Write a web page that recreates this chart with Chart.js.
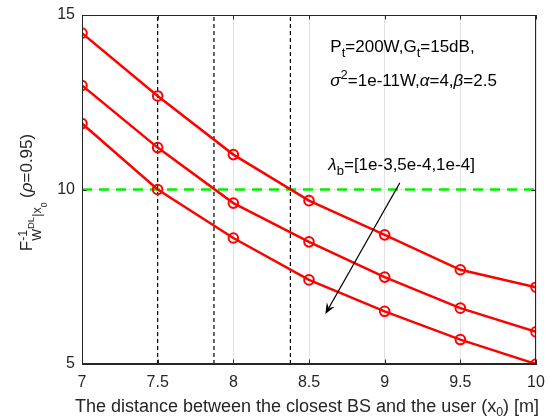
<!DOCTYPE html>
<html><head><meta charset="utf-8">
<style>html,body{margin:0;padding:0;background:#fff;}#wrap{width:550px;height:417px;}</style>
<script src="https://cdn.jsdelivr.net/npm/chart.js@4/dist/chart.umd.min.js"></script>
</head><body><div id="wrap"><canvas id="c" width="550" height="417"></canvas></div>
<script>
// ---- data ----
const xValues = [7, 7.5, 8, 8.5, 9, 9.5, 10];
const seriesHigh = [14.48, 12.68, 11.0, 9.68, 8.70, 7.70, 7.20];
const seriesMid  = [12.98, 11.20, 9.61, 8.50, 7.49, 6.60, 5.92];
const seriesLow  = [11.89, 10.00, 8.61, 7.41, 6.51, 5.70, 5.00];
const xTickLabels = ['7', '7.5', '8', '8.5', '9', '9.5', '10'];
const yTickValues = [5, 10, 15];
const thresholdValue = 10;
const crossingX = [7.5, 7.872, 8.377];

const FAMILY = '"Liberation Sans", Arial, Helvetica, sans-serif';
const TXT = '#262626';

function toPts(ys) { return xValues.map((x, i) => ({x: x, y: ys[i]})); }

function redSeries(ys) {
  return {
    data: toPts(ys), borderColor: '#ff0000', borderWidth: 2.5,
    pointStyle: 'circle', pointRadius: 4.8, pointBorderWidth: 2,
    pointBorderColor: '#ff0000', pointBackgroundColor: 'rgba(0,0,0,0)',
    fill: false, tension: 0
  };
}

const datasets = [
  redSeries(seriesHigh), redSeries(seriesMid), redSeries(seriesLow),
  { data: [{x: 7, y: thresholdValue}, {x: 10, y: thresholdValue}], borderColor: '#00f000',
    borderWidth: 2.5, borderDash: [10, 7], pointRadius: 0, fill: false },
];
crossingX.forEach(cx => datasets.push({
  data: [{x: cx, y: 5}, {x: cx, y: 15}], borderColor: '#000', borderWidth: 1.2,
  borderDash: [4, 3], pointRadius: 0, fill: false
}));

function drawRuns(ctx, x, y, runs, draw) {
  let cx = x, mark = x, maxX = x;
  for (const r of runs) {
    if (r.back) cx = mark;
    if (r.mark) mark = cx;
    ctx.font = (r.it ? 'italic ' : '') + r.size + 'px ' + FAMILY;
    if (draw) ctx.fillText(r.t, cx, y + (r.dy || 0));
    cx += ctx.measureText(r.t).width;
    maxX = Math.max(maxX, cx);
  }
  return maxX - x;
}

const decor = {
  id: 'decor',
  afterDraw(chart, args, opts) {
    const ctx = chart.ctx, a = chart.chartArea, xs = chart.scales.x, ys = chart.scales.y;
    ctx.save();
    // box
    ctx.strokeStyle = TXT; ctx.lineWidth = 1;
    ctx.strokeRect(Math.round(a.left) + 0.5, Math.round(a.top) + 0.5,
      Math.round(a.right - a.left) - 1, Math.round(a.bottom - a.top) - 1);
    // inward ticks
    ctx.beginPath();
    xValues.forEach(v => {
      const px = Math.round(xs.getPixelForValue(v)) + 0.5;
      ctx.moveTo(px, a.bottom); ctx.lineTo(px, a.bottom - 4.5);
      ctx.moveTo(px, a.top); ctx.lineTo(px, a.top + 4.5);
    });
    yTickValues.forEach(v => {
      const py = Math.round(ys.getPixelForValue(v)) + 0.5;
      ctx.moveTo(a.left, py); ctx.lineTo(a.left + 4.5, py);
      ctx.moveTo(a.right, py); ctx.lineTo(a.right - 4.5, py);
    });
    ctx.stroke();

    // arrow
    const ax0 = xs.getPixelForValue(opts.arrowFrom[0]), ay0 = ys.getPixelForValue(opts.arrowFrom[1]);
    const ax1 = xs.getPixelForValue(opts.arrowTo[0]), ay1 = ys.getPixelForValue(opts.arrowTo[1]);
    const ang = Math.atan2(ay1 - ay0, ax1 - ax0);
    ctx.strokeStyle = '#000'; ctx.lineWidth = 1.1;
    ctx.beginPath(); ctx.moveTo(ax0, ay0);
    ctx.lineTo(ax1 - 6 * Math.cos(ang), ay1 - 6 * Math.sin(ang)); ctx.stroke();
    ctx.fillStyle = '#000';
    const L = 11, W = 4.5, N = 4;
    const bx = ax1 - L * Math.cos(ang), by = ay1 - L * Math.sin(ang);
    const nx = -Math.sin(ang), ny = Math.cos(ang);
    ctx.beginPath();
    ctx.moveTo(ax1, ay1);
    ctx.lineTo(bx + W * nx, by + W * ny);
    ctx.lineTo(ax1 - (L - N) * Math.cos(ang), ay1 - (L - N) * Math.sin(ang));
    ctx.lineTo(bx - W * nx, by - W * ny);
    ctx.closePath(); ctx.fill();

    // annotation texts
    ctx.fillStyle = '#000'; ctx.textBaseline = 'alphabetic'; ctx.textAlign = 'left';
    const t1x = xs.getPixelForValue(8.641), t1y = ys.getPixelForValue(13.95);
    drawRuns(ctx, t1x, t1y, [
      {t: 'P', size: 17}, {t: 't', size: 13, dy: 5}, {t: '=200W,G', size: 17},
      {t: 't', size: 13, dy: 5}, {t: '=15dB,', size: 17}], true);
    const t2y = ys.getPixelForValue(12.97);
    drawRuns(ctx, t1x, t2y, [
      {t: 'σ', size: 17, it: true}, {t: '2', size: 13, dy: -7}, {t: '=1e-11W,', size: 17},
      {t: 'α', size: 17, it: true}, {t: '=4,', size: 17}, {t: 'β', size: 17, it: true},
      {t: '=2.5', size: 17}], true);
    const t3x = xs.getPixelForValue(8.628), t3y = ys.getPixelForValue(10.55);
    drawRuns(ctx, t3x, t3y, [
      {t: 'λ', size: 17, it: true}, {t: 'b', size: 13, dy: 5}, {t: '=[1e-3,5e-4,1e-4]', size: 17}], true);

    // x label
    ctx.fillStyle = TXT;
    const xl = [{t: 'The distance between the closest BS and the user (x', size: 18},
      {t: '0', size: 12.5, dy: 4}, {t: ') [m]', size: 18}];
    const xw = drawRuns(ctx, 0, 0, xl, false);
    drawRuns(ctx, (a.left + a.right) / 2 - xw / 2 - 2, 412, xl, true);

    // y label (rotated)
    const yl = [
      {t: 'F', size: 17}, {t: '-1', size: 12.5, dy: -5, mark: true},
      {t: 'W', size: 12.5, dy: 9, back: true}, {t: 'DL', size: 9.5, dy: 2},
      {t: '|x', size: 12.5, dy: 9}, {t: '0', size: 8.5, dy: 15},
      {t: ' (', size: 17}, {t: 'ρ', size: 17, it: true}, {t: '=0.95)', size: 17}];
    const yw = drawRuns(ctx, 0, 0, yl, false);
    ctx.translate(31.5, (a.top + a.bottom) / 2 + 3);
    ctx.rotate(-Math.PI / 2);
    drawRuns(ctx, -yw / 2, 0, yl, true);
    ctx.restore();
  }
};

new Chart(document.getElementById('c'), {
  type: 'line',
  data: {datasets: datasets},
  plugins: [decor],
  options: {
    responsive: false, animation: false, devicePixelRatio: 1,
    layout: {padding: {top: 15, right: 14, left: 0, bottom: 0}},
    plugins: {legend: {display: false}, tooltip: {enabled: false},
      decor: {arrowFrom: [9.10, 10.19], arrowTo: [8.608, 6.43]}},
    scales: {
      x: {
        type: 'linear', min: 7, max: 10,
        afterBuildTicks: s => { s.ticks = xValues.map(v => ({value: v})); },
        afterFit: s => { s.height = 53; s.paddingLeft = 0; s.paddingRight = 0; },
        ticks: {callback: (v, i) => xTickLabels[i], font: {size: 16, family: FAMILY}, color: TXT,
          padding: 9, maxRotation: 0, autoSkip: false},
        grid: {color: '#e3e3e3', drawTicks: false, lineWidth: 1},
        border: {display: true, color: TXT, width: 1}
      },
      y: {
        type: 'linear', min: 5, max: 15,
        afterBuildTicks: s => { s.ticks = yTickValues.map(v => ({value: v})); },
        afterFit: s => { s.width = 82; s.paddingTop = 0; s.paddingBottom = 0; },
        ticks: {font: {size: 16, family: FAMILY}, color: TXT, padding: 7},
        grid: {color: '#e3e3e3', drawTicks: false, lineWidth: 1},
        border: {display: true, color: TXT, width: 1}
      }
    }
  }
});
</script></body></html>
